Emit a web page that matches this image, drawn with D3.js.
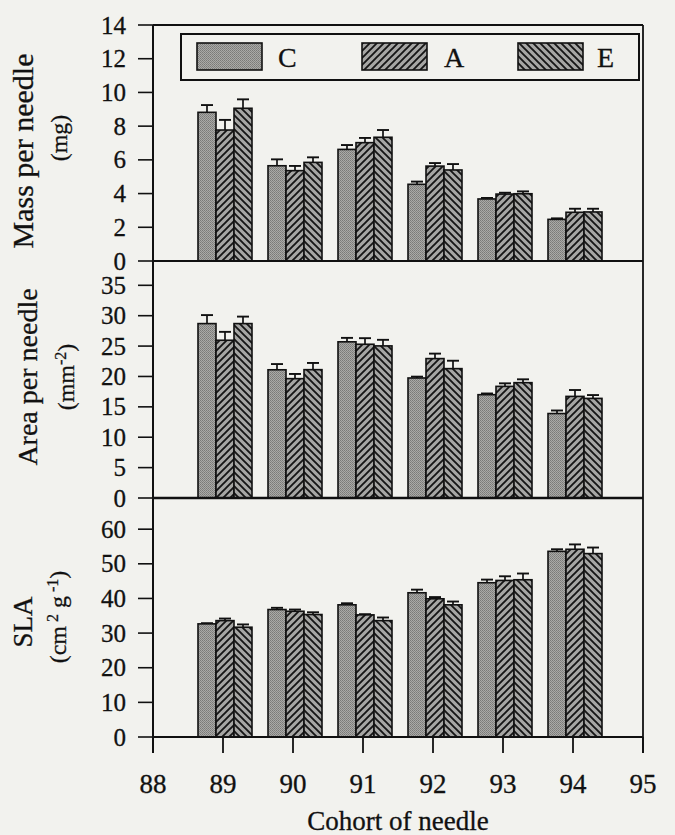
<!DOCTYPE html>
<html><head><meta charset="utf-8">
<script src="https://cdn.jsdelivr.net/npm/d3@7"></script>
<style>
html,body{margin:0;padding:0;background:#f2f2ee;}
svg{display:block;}
text{font-family:"Liberation Serif","Times New Roman",serif;fill:#111;stroke:#111;stroke-width:0.3px;}
</style></head><body>
<svg id="chart" width="675" height="835"></svg>
<script>
// ---------- data ----------
const cohorts = [89, 90, 91, 92, 93, 94];
const seriesNames = ["C", "A", "E"];
const xTicks = [88, 89, 90, 91, 92, 93, 94, 95];

const massC = [8.82, 5.65, 6.62, 4.55, 3.68, 2.47];
const massA = [7.77, 5.36, 7.02, 5.63, 3.97, 2.89];
const massE = [9.06, 5.85, 7.34, 5.40, 3.99, 2.91];
const massErrC = [0.43, 0.38, 0.26, 0.16, 0.06, 0.06];
const massErrA = [0.60, 0.28, 0.28, 0.18, 0.08, 0.21];
const massErrE = [0.53, 0.30, 0.43, 0.35, 0.14, 0.19];

const areaC = [28.7, 21.1, 25.7, 19.75, 17.0, 13.9];
const areaA = [25.96, 19.64, 25.3, 22.94, 18.37, 16.72];
const areaE = [28.7, 21.12, 25.03, 21.29, 18.98, 16.39];
const areaErrC = [1.4, 0.94, 0.65, 0.22, 0.2, 0.5];
const areaErrA = [1.38, 0.77, 1.0, 0.82, 0.5, 1.05];
const areaErrE = [1.15, 1.1, 1.0, 1.3, 0.55, 0.55];

const slaC = [32.66, 36.8, 38.16, 41.64, 44.54, 53.6];
const slaA = [33.6, 36.3, 35.26, 39.9, 45.2, 54.2];
const slaE = [31.7, 35.36, 33.6, 38.16, 45.4, 52.95];
const slaErrC = [0.2, 0.5, 0.45, 0.9, 0.9, 0.6];
const slaErrA = [0.6, 0.5, 0.2, 0.5, 1.2, 1.4];
const slaErrE = [0.8, 0.65, 0.9, 0.95, 1.8, 1.75];

const massTicks = [0, 2, 4, 6, 8, 10, 12, 14];
const areaTicks = [0, 5, 10, 15, 20, 25, 30, 35];
const slaTicks = [0, 10, 20, 30, 40, 50, 60];

// ---------- layout ----------
const svg = d3.select("#chart");
const L = 153, R = 643;
const x = d3.scaleLinear().domain([88, 95]).range([L, R]);
const barW = 18, groupOffset = 2;

const panels = [
  {vals: [massC, massA, massE], errs: [massErrC, massErrA, massErrE], ticks: massTicks,
   y: d3.scaleLinear().domain([0, 14]).range([261, 25]),
   title: "Mass per needle", unit: [["(mg)", false]],
   tx: 33, tcy: 151, tfs: 30, ux: 67, ucy: 138},
  {vals: [areaC, areaA, areaE], errs: [areaErrC, areaErrA, areaErrE], ticks: areaTicks,
   y: d3.scaleLinear().domain([0, 39]).range([498, 261]),
   title: "Area per needle", unit: [["(mm", false], ["-2", true], [")", false]],
   tx: 37, tcy: 377, tfs: 28, ux: 74, ucy: 377},
  {vals: [slaC, slaA, slaE], errs: [slaErrC, slaErrA, slaErrE], ticks: slaTicks,
   y: d3.scaleLinear().domain([0, 69]).range([737, 498]),
   title: "SLA", unit: [["(cm", false], [" 2", true], [" g", false], [" -1", true], [")", false]],
   tx: 32, tcy: 622, tfs: 27, ux: 66, ucy: 617}
];

// ---------- patterns ----------
const defs = svg.append("defs");
const pC = defs.append("pattern").attr("id", "patC").attr("patternUnits", "userSpaceOnUse")
  .attr("width", 2).attr("height", 2);
pC.append("rect").attr("width", 2).attr("height", 2).attr("fill", "#aaaaa7");
pC.append("rect").attr("width", 1).attr("height", 1).attr("fill", "#7a7a78");
pC.append("rect").attr("x", 1).attr("y", 1).attr("width", 1).attr("height", 1).attr("fill", "#858583");

function hatch(id, dir) {
  const s = 7;
  const p = defs.append("pattern").attr("id", id).attr("patternUnits", "userSpaceOnUse")
    .attr("width", s).attr("height", s);
  p.append("rect").attr("width", s).attr("height", s).attr("fill", "#a6a6a4");
  const d = dir > 0
    ? `M0,${s} L${s},0 M-2,2 L2,-2 M${s-2},${s+2} L${s+2},${s-2}`
    : `M0,0 L${s},${s} M-2,${s-2} L2,${s+2} M${s-2},-2 L${s+2},2`;
  p.append("path").attr("d", d).attr("stroke", "#161616").attr("stroke-width", 1.9);
}
hatch("patA", 1);
hatch("patE", -1);
const fills = ["url(#patC)", "url(#patA)", "url(#patE)"];

// ---------- bars ----------
panels.forEach(pn => {
  const g = svg.append("g");
  pn.vals.forEach((arr, si) => {
    cohorts.forEach((c, ci) => {
      const x0 = x(c) + groupOffset + (si - 1.5) * barW;
      const v = arr[ci], e = pn.errs[si][ci];
      const yTop = pn.y(v), yErr = pn.y(v + e);
      const cx = x0 + barW / 2;
      g.append("line").attr("x1", cx).attr("x2", cx).attr("y1", yTop).attr("y2", yErr)
        .attr("stroke", "#111").attr("stroke-width", 1.7);
      g.append("line").attr("x1", cx - 6).attr("x2", cx + 6).attr("y1", yErr).attr("y2", yErr)
        .attr("stroke", "#111").attr("stroke-width", 1.9);
      g.append("rect").attr("x", x0).attr("y", yTop).attr("width", barW)
        .attr("height", pn.y(0) - yTop).attr("fill", fills[si])
        .attr("stroke", "#111").attr("stroke-width", 1.6);
    });
  });

  // y axis ticks & labels
  const ay = svg.append("g");
  pn.ticks.forEach(t => {
    ay.append("line").attr("x1", L - 15).attr("x2", L).attr("y1", pn.y(t)).attr("y2", pn.y(t))
      .attr("stroke", "#111").attr("stroke-width", 1.6);
    ay.append("text").attr("x", 126).attr("y", pn.y(t)).attr("dy", "0.34em")
      .attr("text-anchor", "end").attr("font-size", 25).text(t);
  });

  // titles
  svg.append("text").attr("transform", `translate(${pn.tx},${pn.tcy}) rotate(-90)`)
    .attr("text-anchor", "middle").attr("font-size", pn.tfs).text(pn.title);
  const t2 = svg.append("text").attr("transform", `translate(${pn.ux},${pn.ucy}) rotate(-90)`)
    .attr("text-anchor", "middle").attr("font-size", 24);
  pn.unit.forEach(([s, sup]) => {
    const sp = t2.append("tspan").text(s);
    if (sup) sp.attr("font-size", 16).attr("baseline-shift", "super");
  });
});

// ---------- frame ----------
const frame = svg.append("g").attr("stroke", "#111").attr("fill", "none");
frame.append("line").attr("x1", L).attr("x2", R).attr("y1", 25).attr("y2", 25).attr("stroke-width", 1.8);
frame.append("line").attr("x1", L).attr("x2", L).attr("y1", 25).attr("y2", 753).attr("stroke-width", 2);
frame.append("line").attr("x1", R).attr("x2", R).attr("y1", 25).attr("y2", 753).attr("stroke-width", 1.8);
frame.append("line").attr("x1", L).attr("x2", R).attr("y1", 261).attr("y2", 261).attr("stroke-width", 2);
frame.append("line").attr("x1", L).attr("x2", R).attr("y1", 498).attr("y2", 498).attr("stroke-width", 2.6);
frame.append("line").attr("x1", L).attr("x2", R).attr("y1", 737).attr("y2", 737).attr("stroke-width", 2);

// x axis
const ax = svg.append("g");
xTicks.forEach(t => {
  ax.append("line").attr("x1", x(t)).attr("x2", x(t)).attr("y1", 737).attr("y2", 753)
    .attr("stroke", "#111").attr("stroke-width", 1.8);
  ax.append("text").attr("x", x(t)).attr("y", 793).attr("text-anchor", "middle")
    .attr("font-size", 27).text(t);
});
svg.append("text").attr("x", 398).attr("y", 830).attr("text-anchor", "middle")
  .attr("font-size", 27).text("Cohort of needle");

// ---------- legend ----------
const lg = svg.append("g");
lg.append("rect").attr("x", 181).attr("y", 34).attr("width", 458).attr("height", 46)
  .attr("fill", "none").attr("stroke", "#111").attr("stroke-width", 2);
const legX = [197, 362, 518];
const legTX = [278, 444, 597];
seriesNames.forEach((s, i) => {
  lg.append("rect").attr("x", legX[i]).attr("y", 43).attr("width", 65).attr("height", 27)
    .attr("fill", fills[i]).attr("stroke", "#111").attr("stroke-width", 1.6);
  lg.append("text").attr("x", legTX[i]).attr("y", 67).attr("font-size", 28).text(s);
});
</script>
</body></html>
